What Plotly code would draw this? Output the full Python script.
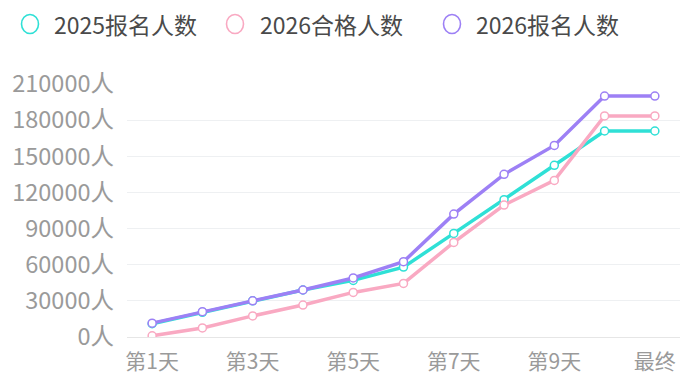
import plotly.graph_objects as go

categories = ["第1天", "第2天", "第3天", "第4天", "第5天", "第6天",
              "第7天", "第8天", "第9天", "第10天", "最终"]
s2025_apply = [11000, 20500, 30000, 39000, 47000, 58000, 86000, 114000, 142500, 171000, 171000]
s2026_pass = [1000, 7500, 17500, 26500, 37000, 44500, 78500, 109500, 130000, 183500, 183500]
s2026_apply = [11500, 21000, 30000, 39000, 49000, 62500, 102000, 135000, 159000, 200000, 200000]
names = ["2025报名人数", "2026合格人数", "2026报名人数"]
colors = ["#2fe0d6", "#f9a9c2", "#9d80f5"]
y_ticks = [0, 30000, 60000, 90000, 120000, 150000, 180000, 210000]
y_ticktext = [f"{v}人" for v in y_ticks]
x_tickvals = categories[::2]

font_family = "Noto Sans CJK SC, Noto Sans, sans-serif"

W, H = 695, 390
ML, MR, MT, MB = 127, 15, 84, 53
PW, PH = W - ML - MR, H - MT - MB

def px_to_paper_x(px):
    return (px - ML) / PW

def px_to_paper_y(py):
    return (H - MB - py) / PH

fig = go.Figure()
series = [s2025_apply, s2026_pass, s2026_apply]
for name, vals, c in zip(names, series, colors):
    fig.add_trace(go.Scatter(
        x=categories, y=vals, mode="lines+markers", name=name,
        line=dict(color=c, width=3.5),
        marker=dict(symbol="circle", size=8, color="white", line=dict(color=c, width=1.5)),
        showlegend=False,
    ))

# manual legend
legend_symbol_x = [30, 235, 452]
legend_text_x = [52, 258, 474]
legend_y = 24
for name, c, sx, tx in zip(names, colors, legend_symbol_x, legend_text_x):
    fig.add_shape(
        type="circle", xref="paper", yref="paper",
        x0=px_to_paper_x(sx - 8.5), x1=px_to_paper_x(sx + 8.5),
        y0=px_to_paper_y(legend_y + 9.5), y1=px_to_paper_y(legend_y - 9.5),
        line=dict(color=c, width=1.6), fillcolor="white",
    )
    fig.add_annotation(
        x=px_to_paper_x(tx), y=px_to_paper_y(legend_y), xref="paper", yref="paper",
        text=name, showarrow=False, xanchor="left", yanchor="middle",
        font=dict(size=23, color="#4a4a4a", family=font_family),
    )

fig.update_layout(
    width=W, height=H,
    margin=dict(l=ML, r=MR, t=MT, b=MB, autoexpand=False),
    paper_bgcolor="white", plot_bgcolor="white",
    font=dict(family=font_family, color="#999999"),
    showlegend=False,
    xaxis=dict(
        type="category", tickmode="array", tickvals=x_tickvals,
        tickfont=dict(size=21, color="#9a9a9a"),
        showgrid=False, showline=True, linecolor="#e6e6e6", linewidth=1,
        ticks="", ticklabelstandoff=6, automargin=False,
        range=[-0.5, len(categories) - 0.5],
    ),
    yaxis=dict(
        range=[0, 210000], tickmode="array", tickvals=y_ticks, ticktext=y_ticktext,
        tickfont=dict(size=23.5, color="#9a9a9a"),
        showgrid=True, gridcolor="#eef0f2", gridwidth=1,
        zeroline=False, showline=False, ticks="", ticklabelstandoff=12,
        automargin=False,
    ),
)

fig.write_html("out.html")
